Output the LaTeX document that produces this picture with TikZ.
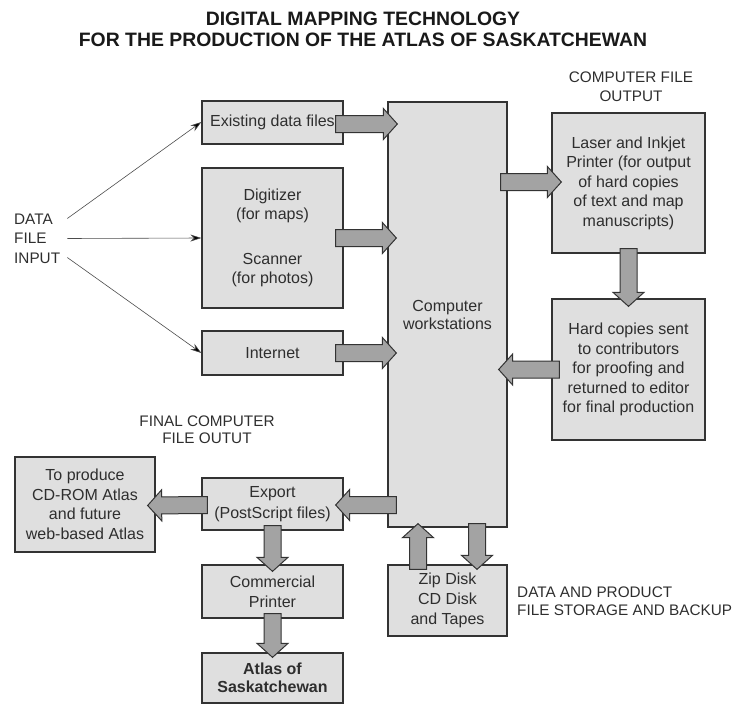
\documentclass[tikz,border=0pt]{standalone}
\usepackage{fontspec}
\setmainfont{Liberation Sans}
\usetikzlibrary{calc,arrows.meta}
\definecolor{boxfill}{gray}{0.875}
\definecolor{arrfill}{gray}{0.64}
\definecolor{edgecol}{gray}{0.2}
\definecolor{txtcol}{gray}{0.18}
\newcommand\bodyfont{\fontsize{16}{19.5}\selectfont}
\newcommand\capfont{\fontsize{15.3}{19}\selectfont}
\newcommand\fatarrow[2]{%
  \draw[fatarr] let \p1=#1, \p2=#2,
    \n1={atan2(\y2-\y1,\x2-\x1)},
    \n2={veclen(\x2-\x1,\y2-\y1)} in
    ($(\p1)+(\n1+90:8.5pt)$) --
    ($(\p1)+(\n1:{\n2-14pt})+(\n1+90:8.5pt)$) --
    ($(\p1)+(\n1:{\n2-14pt})+(\n1+90:15.5pt)$) --
    (\p2) --
    ($(\p1)+(\n1:{\n2-14pt})+(\n1-90:15.5pt)$) --
    ($(\p1)+(\n1:{\n2-14pt})+(\n1-90:8.5pt)$) --
    ($(\p1)+(\n1-90:8.5pt)$) -- cycle;
}
\tikzset{
  box/.style={draw=edgecol, fill=boxfill, line width=1.3pt, inner sep=0pt,
    align=center, text=txtcol, font=\bodyfont},
  fatarr/.style={draw=edgecol, fill=arrfill, line width=1pt, line join=miter},
  thinarr/.style={draw=gray!60!black, line width=0.6pt,
    -{Stealth[length=11pt,width=7pt,fill=black]}},
  lab/.style={inner sep=0pt, align=center, text=txtcol, font=\capfont},
}
\begin{document}
\begin{tikzpicture}[x=1pt,y=-1pt]
\useasboundingbox (0,0) rectangle (736,704);

% title
\node[inner sep=0pt, align=center, text=black!90,
  font=\fontsize{19.4}{21.5}\selectfont\bfseries] (title) at (363,29.5)
  {DIGITAL MAPPING TECHNOLOGY\\FOR THE PRODUCTION OF THE ATLAS OF SASKATCHEWAN};

% labels
\node[lab, anchor=west, align=left, font=\fontsize{15.3}{19.5}\selectfont] (dfi) at (14,238.5) {DATA\\FILE\\INPUT};
\node[lab] (cfo) at (631,86.5) {COMPUTER FILE\\OUTPUT};
\node[lab, font=\fontsize{15.3}{17}\selectfont] (fcf) at (207,430) {FINAL COMPUTER\\FILE OUTUT};
\node[lab, anchor=west, align=left, font=\fontsize{15.3}{18}\selectfont] (dps) at (517,601) {DATA AND PRODUCT\\FILE STORAGE AND BACKUP};

% boxes
\node[box, minimum width=141pt, minimum height=43pt] (ex) at (272.5,122.5) {Existing data files};
\node[box, minimum width=141pt, minimum height=140pt] (dg) at (272.5,238) {Digitizer\\(for maps)\\[25pt]Scanner\\(for photos)};
\node[box, minimum width=141pt, minimum height=44pt] (in) at (272.5,353) {Internet};
\node[box, minimum width=119pt, minimum height=425pt, font=\fontsize{16}{18}\selectfont] (cw) at (447.5,314.5) {Computer\\workstations};
\node[box, minimum width=153pt, minimum height=140pt] (lp) at (628.5,183) {Laser and Inkjet\\Printer (for output\\of hard copies\\of text and map\\manuscripts)};
\node[box, minimum width=153pt, minimum height=141pt] (hc) at (628.5,369.5) {Hard copies sent\\to contributors\\for proofing and\\returned to editor\\for final production};
\node[box, minimum width=140pt, minimum height=95pt] (cd) at (85,504.5) {To produce\\CD-ROM Atlas\\and future\\web-based Atlas};
\node[box, minimum width=141pt, minimum height=52pt, font=\fontsize{16}{21}\selectfont] (exp) at (272.5,504) {Export\\(PostScript files)};
\node[box, minimum width=141pt, minimum height=53pt, font=\fontsize{16}{20}\selectfont] (cp) at (272.5,591.5) {Commercial\\Printer};
\node[box, minimum width=141pt, minimum height=50pt, font=\fontsize{16}{18.5}\selectfont\bfseries] (at) at (272.5,678) {Atlas of\\Saskatchewan};
\node[box, minimum width=119pt, minimum height=71pt, font=\fontsize{16}{20}\selectfont] (zip) at (447.5,600.5) {Zip Disk\\CD Disk\\and Tapes};

% thin input arrows
\draw[thinarr] ($(dfi.east)+(7,-20)$) -- ($(ex.west)+(0,-0.5)$);
\draw[thinarr] ($(dfi.east)+(7,0)$) -- (dg.west);
\draw[thinarr] ($(dfi.east)+(7,19)$) -- (in.west);

% fat arrows
\fatarrow{($(ex.east)+(-8,1.5)$)}{($(cw.west|-ex.east)+(10,1.5)$)}
\fatarrow{($(dg.east)+(-8,0)$)}{($(cw.west|-dg.east)+(9,0)$)}
\fatarrow{($(in.east)+(-8,0)$)}{($(cw.west|-in.east)+(9,0)$)}
\fatarrow{($(cw.east|-lp.west)+(-7,-1)$)}{($(lp.west)+(10,-1)$)}
\fatarrow{($(lp.south)+(0,-5)$)}{($(hc.north)+(0,8)$)}
\fatarrow{($(hc.west)+(8,0)$)}{($(cw.east|-hc.west)+(-9,0)$)}
\fatarrow{($(cw.west|-exp.east)+(9,1)$)}{($(exp.east)+(-8,1)$)}
\fatarrow{($(exp.west)+(6,1)$)}{($(cd.east)+(-8,1)$)}
\fatarrow{($(exp.south)+(0,-5)$)}{($(cp.north)+(0,7)$)}
\fatarrow{($(cp.south)+(0,-5)$)}{($(at.north)+(0,5)$)}
\fatarrow{($(zip.north)+(-29.5,5)$)}{($(zip.north|-cw.south)+(-29.5,-4)$)}
\fatarrow{($(cw.south)+(29.5,-4)$)}{($(zip.north)+(29.5,5)$)}
\end{tikzpicture}
\end{document}
